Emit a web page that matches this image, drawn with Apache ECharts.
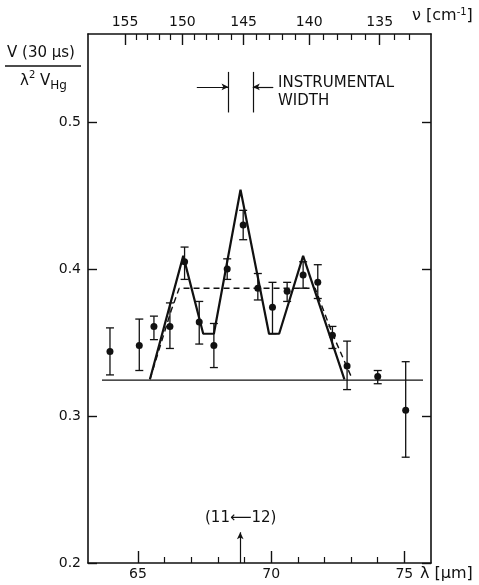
<!DOCTYPE html>
<html>
<head>
<meta charset="utf-8">
<script src="https://cdn.jsdelivr.net/npm/echarts@6/dist/echarts.min.js"></script>
<style>html,body{margin:0;padding:0;background:#fff;}#c{width:479px;height:585px;}</style>
</head>
<body>
<div id="c"></div>
<script>
// ---- data ----
const lambda   = [63.95, 65.05, 65.6, 66.2, 66.75, 67.3, 67.85, 68.35, 68.95, 69.5, 70.05, 70.6, 71.2, 71.75, 72.3, 72.85, 74.0, 75.05];
const signal   = [0.344, 0.348, 0.361, 0.361, 0.405, 0.364, 0.348, 0.400, 0.430, 0.387, 0.374, 0.385, 0.396, 0.391, 0.355, 0.334, 0.327, 0.304];
const errHigh  = [0.360, 0.366, 0.368, 0.377, 0.415, 0.378, 0.363, 0.407, 0.440, 0.397, 0.391, 0.391, 0.405, 0.403, 0.361, 0.351, 0.331, 0.337];
const errLow   = [0.328, 0.331, 0.352, 0.346, 0.393, 0.349, 0.333, 0.393, 0.420, 0.379, 0.356, 0.378, 0.387, 0.380, 0.346, 0.318, 0.322, 0.272];

const solidX   = [65.45, 66.7, 67.45, 67.85, 68.85, 69.92, 70.3, 71.2, 72.75];
const solidY   = [0.325, 0.409, 0.356, 0.356, 0.454, 0.356, 0.356, 0.409, 0.325];
const dashX    = [65.45, 66.25, 66.55, 71.65, 72.3, 73.05];
const dashY    = [0.325, 0.372, 0.387, 0.387, 0.356, 0.325];
const baseX    = [63.65, 75.7];
const baseY    = [0.3245, 0.3245];

const xMajorTicks = [65, 70, 75];
const xMinorTicks = [66, 67, 68, 69, 71, 72, 73, 74];
const nuMajorTicks = [155, 150, 145, 140, 135];
const nuMinorTicks = [154, 153, 152, 151, 149, 148, 147, 146, 144, 143, 142, 141, 139, 138, 137, 136, 134, 133];
const yTicks = [0.2, 0.3, 0.4, 0.5];

// annotations (data coordinates)
const instrLinesX = [68.40, 69.31];
const instrLineY = [0.5066, 0.5342];
const instrArrowY = 0.524;
const instrArrowLeftFrom = 67.21;
const instrArrowRightFrom = 70.08;
const transitionX = 68.84;
const transitionArrowTop = 0.2209;

const xMin = 63.125, xMax = 76.0, yMin = 0.2, yMax = 0.56;
const FONT = 'DejaVu Sans';
const black = '#111';

const pairs = (xs, ys) => xs.map((x, i) => [x, ys[i]]);
const toLam = nu => 10000 / nu;

const chart = echarts.init(document.getElementById('c'), null, {renderer: 'canvas'});

const axisBase = {
  type: 'value', min: xMin, max: xMax, splitLine: {show: false}
};

chart.setOption({
  animation: false,
  backgroundColor: '#fff',
  grid: {left: 88, right: 48, top: 34, bottom: 22, show: false},
  xAxis: [
    Object.assign({}, axisBase, {
      position: 'bottom',
      axisLine: {show: true, onZero: false, lineStyle: {color: black, width: 1.6}},
      axisTick: {show: true, inside: true, length: 12, customValues: xMajorTicks, lineStyle: {color: black, width: 1.4}},
      axisLabel: {show: true, customValues: xMajorTicks, margin: 4, color: black, fontFamily: FONT, fontSize: 14,
                  formatter: v => String(Math.round(v))}
    }),
    Object.assign({}, axisBase, {
      position: 'bottom',
      axisLine: {show: false, onZero: false},
      axisTick: {show: true, inside: true, length: 6, customValues: xMinorTicks, lineStyle: {color: black, width: 1.2}},
      axisLabel: {show: false}
    }),
    Object.assign({}, axisBase, {
      position: 'top',
      axisLine: {show: true, onZero: false, lineStyle: {color: black, width: 1.6}},
      axisTick: {show: true, inside: true, length: 11, customValues: nuMajorTicks.map(toLam), lineStyle: {color: black, width: 1.4}},
      axisLabel: {show: true, customValues: nuMajorTicks.map(toLam), margin: 5, color: black, fontFamily: FONT, fontSize: 14,
                  formatter: v => String(Math.round(10000 / v))}
    }),
    Object.assign({}, axisBase, {
      position: 'top',
      axisLine: {show: false, onZero: false},
      axisTick: {show: true, inside: true, length: 6, customValues: nuMinorTicks.map(toLam), lineStyle: {color: black, width: 1.2}},
      axisLabel: {show: false}
    })
  ],
  yAxis: [
    {
      type: 'value', min: yMin, max: yMax, position: 'left', splitLine: {show: false},
      axisLine: {show: true, onZero: false, lineStyle: {color: black, width: 1.6}},
      axisTick: {show: true, inside: true, length: 9, customValues: yTicks, lineStyle: {color: black, width: 1.4}},
      axisLabel: {show: true, customValues: yTicks, margin: 7, color: black, fontFamily: FONT, fontSize: 14,
                  formatter: v => v.toFixed(1)}
    },
    {
      type: 'value', min: yMin, max: yMax, position: 'right', splitLine: {show: false},
      axisLine: {show: true, onZero: false, lineStyle: {color: black, width: 1.6}},
      axisTick: {show: true, inside: true, length: 9, customValues: yTicks, lineStyle: {color: black, width: 1.4}},
      axisLabel: {show: false}
    }
  ],
  series: [
    {
      type: 'line', data: pairs(baseX, baseY), symbol: 'none',
      lineStyle: {color: black, width: 1.3}, z: 2
    },
    {
      type: 'line', data: pairs(dashX, dashY), symbol: 'none',
      lineStyle: {color: black, width: 1.4, type: [6, 4]}, z: 3
    },
    {
      type: 'line', data: pairs(solidX, solidY), symbol: 'none',
      lineStyle: {color: black, width: 2.2}, z: 4
    },
    {
      type: 'custom',
      data: lambda.map((x, i) => [x, errLow[i], errHigh[i]]),
      renderItem: function (params, api) {
        const x = api.value(0);
        const lo = api.coord([x, api.value(1)]);
        const hi = api.coord([x, api.value(2)]);
        const cap = 4;
        const st = {stroke: black, lineWidth: 1.3};
        return {
          type: 'group',
          children: [
            {type: 'line', shape: {x1: lo[0], y1: lo[1], x2: hi[0], y2: hi[1]}, style: st},
            {type: 'line', shape: {x1: lo[0] - cap, y1: lo[1], x2: lo[0] + cap, y2: lo[1]}, style: st},
            {type: 'line', shape: {x1: hi[0] - cap, y1: hi[1], x2: hi[0] + cap, y2: hi[1]}, style: st}
          ]
        };
      },
      z: 5
    },
    {
      type: 'scatter', data: pairs(lambda, signal), symbol: 'circle', symbolSize: 7,
      itemStyle: {color: black, opacity: 1}, z: 6
    },
    // instrumental width annotation
    {
      type: 'line', data: [], symbol: 'none', silent: true,
      markLine: {
        silent: true, animation: false, label: {show: false},
        lineStyle: {color: black, width: 1.2, type: 'solid'},
        data: [
          [{coord: [instrLinesX[0], instrLineY[0]], symbol: 'none'}, {coord: [instrLinesX[0], instrLineY[1]], symbol: 'none'}],
          [{coord: [instrLinesX[1], instrLineY[0]], symbol: 'none'}, {coord: [instrLinesX[1], instrLineY[1]], symbol: 'none'}],
          [{coord: [instrArrowLeftFrom, instrArrowY], symbol: 'none'}, {coord: [instrLinesX[0], instrArrowY], symbol: 'arrow', symbolSize: [5, 7]}],
          [{coord: [instrArrowRightFrom, instrArrowY], symbol: 'none'}, {coord: [instrLinesX[1], instrArrowY], symbol: 'arrow', symbolSize: [5, 7]}],
          [{coord: [transitionX, yMin], symbol: 'none'}, {coord: [transitionX, transitionArrowTop], symbol: 'arrow', symbolSize: [5, 7]}]
        ]
      }
    }
  ],
  graphic: [
    {type: 'text', left: 278, top: 76, style: {text: 'INSTRUMENTAL', font: '15px "DejaVu Sans"', fill: black}},
    {type: 'text', left: 278, top: 94, style: {text: 'WIDTH', font: '15px "DejaVu Sans"', fill: black}},
    {type: 'text', left: 205, top: 511, style: {text: '(11\u27f512)', font: '15px "DejaVu Sans"', fill: black}},
    {type: 'text', left: 7, top: 46, style: {text: 'V (30 \u00b5s)', font: '15px "DejaVu Sans"', fill: black}},
    {type: 'line', shape: {x1: 5, y1: 66, x2: 81, y2: 66}, style: {stroke: black, lineWidth: 1.4}},
    {type: 'text', left: 20, top: 70, style: {
      rich: {
        a: {font: '15px "DejaVu Sans"', fill: black},
        sup: {font: '10px "DejaVu Sans"', fill: black, verticalAlign: 'top', padding: [0, 0, 8, 0]},
        sub: {font: '12px "DejaVu Sans"', fill: black, padding: [10, 0, 0, 0]}
      },
      text: '{a|\u03bb}{sup|2}{a| V}{sub|Hg}'
    }},
    {type: 'text', left: 412, top: 7, style: {
      rich: {
        a: {font: '16px "DejaVu Sans"', fill: black},
        sup: {font: '10px "DejaVu Sans"', fill: black, padding: [0, 0, 8, 0]}
      },
      text: '{a|\u03bd [cm}{sup|-1}{a|]}'
    }},
    {type: 'text', left: 420, top: 566, style: {text: '\u03bb [\u00b5m]', font: '16px "DejaVu Sans"', fill: black}}
  ]
});
</script>
</body>
</html>
